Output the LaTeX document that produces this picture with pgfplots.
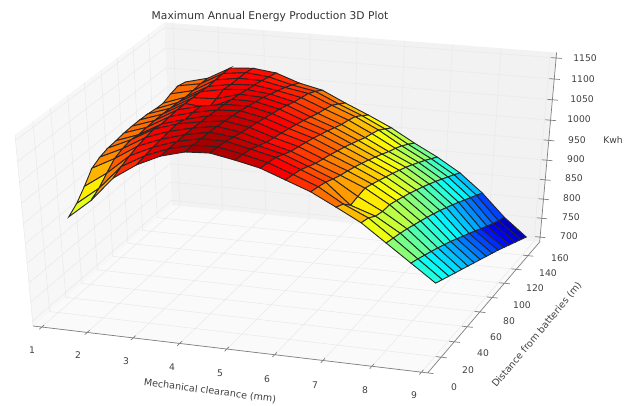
\documentclass[border=0pt]{standalone}
\usepackage{fontspec}
\setmainfont{DejaVu Sans}
\usepackage{pgfplots}
\pgfplotsset{compat=1.18}
\definecolor{floorc}{gray}{0.98}
\definecolor{backc}{gray}{0.95}
\definecolor{leftc}{gray}{0.97}
\definecolor{gridc}{gray}{0.915}
\definecolor{axc}{gray}{0.5}
\definecolor{txt}{gray}{0.25}
\newcommand{\XE}{projx(\thisrow{x},\thisrow{y},\thisrow{z})}
\newcommand{\YE}{projy(\thisrow{x},\thisrow{y},\thisrow{z})}
\newcommand{\lab}[3]{\node[text=txt,font=\fontsize{9.2}{10}\selectfont,inner sep=0pt] at (axis cs:#1,{405-#2}) {#3};}
\begin{document}
\begin{tikzpicture}[declare function={
 uu(\x)=(\x-0.805)/8.32;
 vv(\y)=\y/180.4;
 ww(\z)=(\z-687)/476;
 dd(\x,\y,\z)=1-0.0507*uu(\x)+0.088*vv(\y)-0.0657*ww(\z);
 projx(\x,\y,\z)=(33+373*uu(\x)+153.8*vv(\y)-19*ww(\z))/dd(\x,\y,\z);
 projy(\x,\y,\z)=405-(326+28*uu(\x)-103*vv(\y)-200*ww(\z))/dd(\x,\y,\z);
}]
\begin{axis}[at={(0,0)},anchor=south west,scale only axis,width=635pt,height=405pt,
 xmin=0,xmax=635,ymin=0,ymax=405,hide axis,clip=false,
 colormap/jet,point meta min=726,point meta max=1148]
% panes
\addplot[fill=floorc,draw=none] table[x expr=\XE,y expr=\YE]{
x y z
0.805 0 687
9.125 0 687
9.125 180.4 687
0.805 180.4 687
};
\addplot[fill=backc,draw=none] table[x expr=\XE,y expr=\YE]{
x y z
0.805 180.4 687
9.125 180.4 687
9.125 180.4 1163
0.805 180.4 1163
};
\addplot[fill=leftc,draw=none] table[x expr=\XE,y expr=\YE]{
x y z
0.805 0 687
0.805 180.4 687
0.805 180.4 1163
0.805 0 1163
};
% grid
\addplot[gridc,line width=0.5pt,empty line=jump] table[x expr=\XE,y expr=\YE]{
x y z
1 0 687
1 180.4 687
1 180.4 1163

2 0 687
2 180.4 687
2 180.4 1163

3 0 687
3 180.4 687
3 180.4 1163

4 0 687
4 180.4 687
4 180.4 1163

5 0 687
5 180.4 687
5 180.4 1163

6 0 687
6 180.4 687
6 180.4 1163

7 0 687
7 180.4 687
7 180.4 1163

8 0 687
8 180.4 687
8 180.4 1163

9 0 687
9 180.4 687
9 180.4 1163

9.125 0 687
0.805 0 687
0.805 0 1163

9.125 20 687
0.805 20 687
0.805 20 1163

9.125 40 687
0.805 40 687
0.805 40 1163

9.125 60 687
0.805 60 687
0.805 60 1163

9.125 80 687
0.805 80 687
0.805 80 1163

9.125 100 687
0.805 100 687
0.805 100 1163

9.125 120 687
0.805 120 687
0.805 120 1163

9.125 140 687
0.805 140 687
0.805 140 1163

9.125 160 687
0.805 160 687
0.805 160 1163

0.805 0 700
0.805 180.4 700
9.125 180.4 700

0.805 0 750
0.805 180.4 750
9.125 180.4 750

0.805 0 800
0.805 180.4 800
9.125 180.4 800

0.805 0 850
0.805 180.4 850
9.125 180.4 850

0.805 0 900
0.805 180.4 900
9.125 180.4 900

0.805 0 950
0.805 180.4 950
9.125 180.4 950

0.805 0 1000
0.805 180.4 1000
9.125 180.4 1000

0.805 0 1050
0.805 180.4 1050
9.125 180.4 1050

0.805 0 1100
0.805 180.4 1100
9.125 180.4 1100

0.805 0 1150
0.805 180.4 1150
9.125 180.4 1150
};
% axis lines and ticks
\addplot[axc,line width=0.7pt,empty line=jump] table[x expr=\XE,y expr=\YE]{
x y z
0.805 0 687
9.125 0 687
9.125 180.4 687
9.125 180.4 1163

1 -3 687
1 3 687

2 -3 687
2 3 687

3 -3 687
3 3 687

4 -3 687
4 3 687

5 -3 687
5 3 687

6 -3 687
6 3 687

7 -3 687
7 3 687

8 -3 687
8 3 687

9 -3 687
9 3 687

9.02 0 687
9.24 0 687

9.02 20 687
9.24 20 687

9.02 40 687
9.24 40 687

9.02 60 687
9.24 60 687

9.02 80 687
9.24 80 687

9.02 100 687
9.24 100 687

9.02 120 687
9.24 120 687

9.02 140 687
9.24 140 687

9.02 160 687
9.24 160 687

9.02 180.4 700
9.24 180.4 700

9.02 180.4 750
9.24 180.4 750

9.02 180.4 800
9.24 180.4 800

9.02 180.4 850
9.24 180.4 850

9.02 180.4 900
9.24 180.4 900

9.02 180.4 950
9.24 180.4 950

9.02 180.4 1000
9.24 180.4 1000

9.02 180.4 1050
9.24 180.4 1050

9.02 180.4 1100
9.24 180.4 1100

9.02 180.4 1150
9.24 180.4 1150
};
% surface
\addplot[surf,shader=faceted,faceted color=black!85,line width=0.9pt,
 mesh/rows=16,mesh/cols=16,mesh/ordering=x varies,point meta=\thisrow{z}]
 table[x expr=\XE,y expr=\YE]{
x y z
1.5 165 1044
2 165 1058
2.5 165 1088
3 165 1092
3.5 165 1085
4 165 1065
4.5 165 1052
5 165 1025
5.5 165 1000
6 165 973
6.5 165 940
7 165 910
7.5 165 875
8 165 829
8.5 165 772
9 165 726
1.5 155 1049
2 155 1059
2.5 155 1089
3 155 1096
3.5 155 1090
4 155 1075
4.5 155 1064
5 155 1038
5.5 155 1014
6 155 986
6.5 155 953
7 155 922
7.5 155 887
8 155 840
8.5 155 780
9 155 737
1.5 145 1044
2 145 1057
2.5 145 1088
3 145 1097
3.5 145 1096
4 145 1084
4.5 145 1074
5 145 1050
5.5 145 1027
6 145 999
6.5 145 965
7 145 934
7.5 145 898
8 145 851
8.5 145 790
9 145 748
1.5 135 1036
2 135 1056
2.5 135 1087
3 135 1097
3.5 135 1100
4 135 1091
4.5 135 1079
5 135 1056
5.5 135 1034
6 135 1006
6.5 135 975
7 135 945
7.5 135 909
8 135 862
8.5 135 801
9 135 759
1.5 125 1037
2 125 1058
2.5 125 1089
3 125 1100
3.5 125 1104
4 125 1098
4.5 125 1084
5 125 1061
5.5 125 1039
6 125 1012
6.5 125 983
7 125 956
7.5 125 920
8 125 873
8.5 125 812
9 125 770
1.5 115 1040
2 115 1059
2.5 115 1090
3 115 1092
3.5 115 1108
4 115 1105
4.5 115 1091
5 115 1068
5.5 115 1047
6 115 1021
6.5 115 993
7 115 966
7.5 115 930
8 115 884
8.5 115 824
9 115 781
1.5 105 1041
2 105 1060
2.5 105 1091
3 105 1085
3.5 105 1111
4 105 1110
4.5 105 1097
5 105 1075
5.5 105 1055
6 105 1029
6.5 105 1002
7 105 975
7.5 105 940
8 105 894
8.5 105 835
9 105 791
1.5 95 1041
2 95 1060
2.5 95 1091
3 95 1105
3.5 95 1114
4 95 1115
4.5 95 1102
5 95 1081
5.5 95 1062
6 95 1037
6.5 95 1011
7 95 984
7.5 95 949
8 95 904
8.5 95 846
9 95 801
1.5 85 1040
2 85 1059
2.5 85 1090
3 85 1105
3.5 85 1116
4 85 1119
4.5 85 1107
5 85 1087
5.5 85 1069
6 85 1044
6.5 85 1019
7 85 992
7.5 85 958
8 85 913
8.5 85 857
9 85 811
1.5 75 1037
2 75 1057
2.5 75 1088
3 75 1104
3.5 75 1118
4 75 1123
4.5 75 1112
5 75 1092
5.5 75 1075
6 75 1051
6.5 75 1027
7 75 1000
7.5 75 966
8 75 922
8.5 75 868
9 75 821
1.5 65 1035
2 65 1060
2.5 65 1091
3 65 1109
3.5 65 1119
4 65 1126
4.5 65 1116
5 65 1097
5.5 65 1081
6 65 1057
6.5 65 1034
7 65 1008
7.5 65 974
8 65 930
8.5 65 878
9 65 831
1.5 55 1029
2 55 1055
2.5 55 1087
3 55 1107
3.5 55 1120
4 55 1129
4.5 55 1120
5 55 1102
5.5 55 1086
6 55 1063
6.5 55 1040
7 55 1015
7.5 55 981
8 55 938
8.5 55 888
9 55 841
1.5 45 1018
2 45 1047
2.5 45 1082
3 45 1104
3.5 45 1120
4 45 1131
4.5 45 1125
5 45 1110
5.5 45 1095
6 45 1072
6.5 45 1048
7 45 1012
7.5 45 982
8 45 946
8.5 45 897
9 45 851
1.5 35 990
2 35 1028
2.5 35 1075
3 35 1101
3.5 35 1120
4 35 1132
4.5 35 1131
5 35 1118
5.5 35 1104
6 35 1081
6.5 35 1057
7 35 1008
7.5 35 988
8 35 953
8.5 35 906
9 35 861
1.5 25 965
2 25 1008
2.5 25 1066
3 25 1097
3.5 25 1119
4 25 1133
4.5 25 1134
5 25 1122
5.5 25 1108
6 25 1086
6.5 25 1063
7 25 1028
7.5 25 1001
8 25 959
8.5 25 915
9 25 871
1.5 15 949
2 15 995
2.5 15 1055
3 15 1092
3.5 15 1118
4 15 1133
4.5 15 1136
5 15 1125
5.5 15 1112
6 15 1090
6.5 15 1068
7 15 1038
7.5 15 1007
8 15 965
8.5 15 923
9 15 881
};
% labels
\lab{32}{350}{1}\lab{78}{355}{2}\lab{126}{361}{3}\lab{172}{367}{4}\lab{220}{373}{5}
\lab{267}{379}{6}\lab{315}{385}{7}\lab{365}{390}{8}\lab{414}{395}{9}
\lab{454}{387}{0}\lab{468}{370}{20}\lab{483}{353}{40}\lab{496}{337}{60}\lab{509}{321}{80}
\lab{522}{305}{100}\lab{535}{288}{120}\lab{548}{273}{140}\lab{560}{258}{160}
\lab{585}{58}{1150}\lab{583}{79}{1100}\lab{582}{99}{1050}\lab{579}{119}{1000}\lab{577}{140}{950}
\lab{576}{159}{900}\lab{574}{178}{850}\lab{572}{198}{800}\lab{571}{217}{750}\lab{569}{236}{700}
\lab{613}{140}{Kwh}
\node[text=txt,font=\fontsize{9.6}{10}\selectfont,inner sep=0pt,rotate=-7.5] at (axis cs:210,{405-391}) {Mechanical clearance (mm)};
\node[text=txt,font=\fontsize{9.6}{10}\selectfont,inner sep=0pt,rotate=50] at (axis cs:537,{405-335}) {Distance from batteries (m)};
\node[text=black!80,font=\fontsize{10.7}{12}\selectfont,inner sep=0pt] at (axis cs:270,{405-17}) {Maximum Annual Energy Production 3D Plot};
\end{axis}
\path[use as bounding box] (0,0) rectangle (635pt,405pt);
\end{tikzpicture}
\end{document}
